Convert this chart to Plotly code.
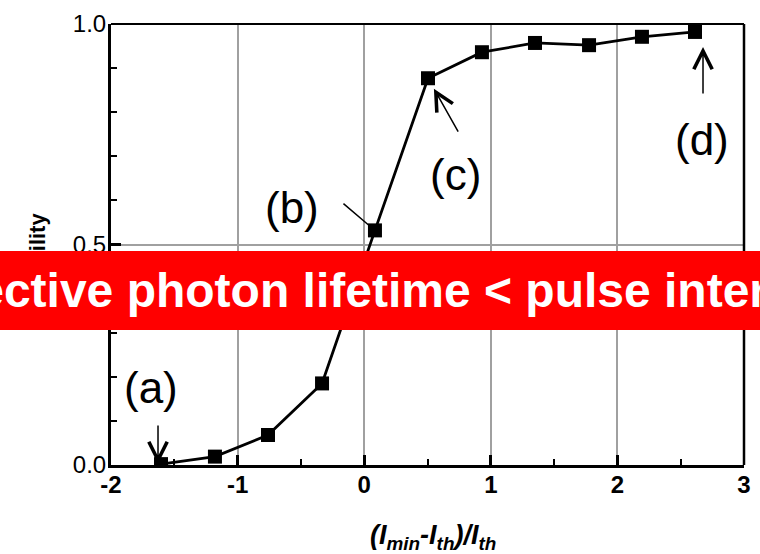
import plotly.graph_objects as go

# ---- data ----
x_vals = [-1.605, -1.179, -0.760, -0.333, 0.085, 0.504, 0.930, 1.349, 1.776, 2.194, 2.613]
y_vals = [0.002, 0.019, 0.068, 0.185, 0.532, 0.877, 0.936, 0.957, 0.952, 0.971, 0.982]
x_ticks = [-2, -1, 0, 1, 2, 3]
x_tick_text = ["-2", "-1", "0", "1", "2", "3"]
y_ticks = [0.0, 0.5, 1.0]
y_tick_text = ["0.0", "0.5", "1.0"]
labels = ["(a)", "(b)", "(c)", "(d)"]
label_pos_x = [-1.685, -0.570, 0.720, 2.665]
label_pos_y = [0.175, 0.585, 0.658, 0.737]
arrow_idx = [0, 4, 5, 10]
banner_text = "Effective photon lifetime < pulse interval"
y_title = "Probability"
x_title = "<i><b>(I<sub>min</sub>-I<sub>th</sub>)/I<sub>th</sub></b></i>"

FONT = "Liberation Sans, Arial, sans-serif"

fig = go.Figure()
fig.add_trace(go.Scatter(
    x=x_vals, y=y_vals, mode="lines+markers",
    line=dict(color="black", width=2.8),
    marker=dict(symbol="square", size=14, color="black"),
    showlegend=False,
))

fig.update_layout(
    width=760, height=554,
    margin=dict(l=111, r=16, t=24, b=89, autoexpand=False),
    paper_bgcolor="white", plot_bgcolor="white",
    font=dict(family=FONT, color="black"),
)
fig.update_xaxes(
    range=[-2, 3], tickmode="array", tickvals=x_ticks, ticktext=x_tick_text,
    ticks="inside", ticklen=10, tickwidth=2.5, automargin=False,
    tickcolor="black", showline=True, linewidth=3, linecolor="black",
    showgrid=True, gridcolor="#a0a0a0", gridwidth=2, zeroline=False,
    tickfont=dict(size=24, family=FONT, color="black", weight="bold"),
    ticklabelstandoff=-4,
    minor=dict(dtick=0.5, ticks="inside", ticklen=6, tickwidth=2, tickcolor="black", showgrid=False),
)
fig.update_yaxes(
    range=[0, 1], tickmode="array", tickvals=y_ticks, ticktext=y_tick_text,
    ticks="inside", ticklen=10, tickwidth=2.5, automargin=False,
    tickcolor="black", showline=True, linewidth=3, linecolor="black",
    showgrid=True, gridcolor="#a0a0a0", gridwidth=2, zeroline=False,
    tickfont=dict(size=24, family=FONT, color="black"),
    ticklabelstandoff=-3,
    minor=dict(dtick=0.1, ticks="inside", ticklen=6, tickwidth=2, tickcolor="black", showgrid=False),
)

shapes = [
    dict(type="line", xref="paper", yref="paper", x0=0, x1=1, y0=1, y1=1,
         line=dict(color="black", width=2), layer="above"),
    dict(type="line", xref="paper", yref="paper", x0=1, x1=1, y0=0, y1=1,
         line=dict(color="black", width=2.5), layer="above"),
]
fig.update_layout(shapes=shapes)

ann = []
arrow_ax = [0, -33, 31, 0]
arrow_ay = [-40, -28, 55, 63]
arrow_xshift = [-3, 0, 0, 8]
arrow_standoff = [0, 8, 12, 15]
arrow_heads = [5, 0, 5, 5]
for i, idx in enumerate(arrow_idx):
    ann.append(dict(
        x=x_vals[idx], y=y_vals[idx], xref="x", yref="y", text="",
        showarrow=True, arrowhead=arrow_heads[i], arrowsize=2.4, arrowwidth=1.5,
        arrowcolor="black", ax=arrow_ax[i], ay=arrow_ay[i], standoff=arrow_standoff[i],
        xshift=arrow_xshift[i],
    ))
for t, lx, ly in zip(labels, label_pos_x, label_pos_y):
    ann.append(dict(x=lx, y=ly, xref="x", yref="y", text=t, showarrow=False,
                    font=dict(size=44, family=FONT, color="black"),
                    xanchor="center", yanchor="middle"))
ann.append(dict(x=(433 - 111) / 633, y=-(537 - 465) / 441, xref="paper", yref="paper",
                text=x_title, showarrow=False, font=dict(size=27, family=FONT),
                xanchor="center", yanchor="middle"))
ann.append(dict(x=-(111 - 37) / 633, y=(465 - 270) / 441, xref="paper", yref="paper",
                text="<b>" + y_title + "</b>", showarrow=False, textangle=-90,
                font=dict(size=22, family=FONT), xanchor="center", yanchor="middle"))
ann.append(dict(x=(374 - 111) / 633, y=(465 - 290.5) / 441, xref="paper", yref="paper",
                text="<b>" + banner_text + "</b>", showarrow=False,
                font=dict(size=48, family=FONT, color="white"),
                bgcolor="#ff0000", width=1100, height=79, borderpad=0, borderwidth=0,
                align="center", valign="middle",
                xanchor="center", yanchor="middle"))
fig.update_layout(annotations=ann)

fig.write_html("out.html")
